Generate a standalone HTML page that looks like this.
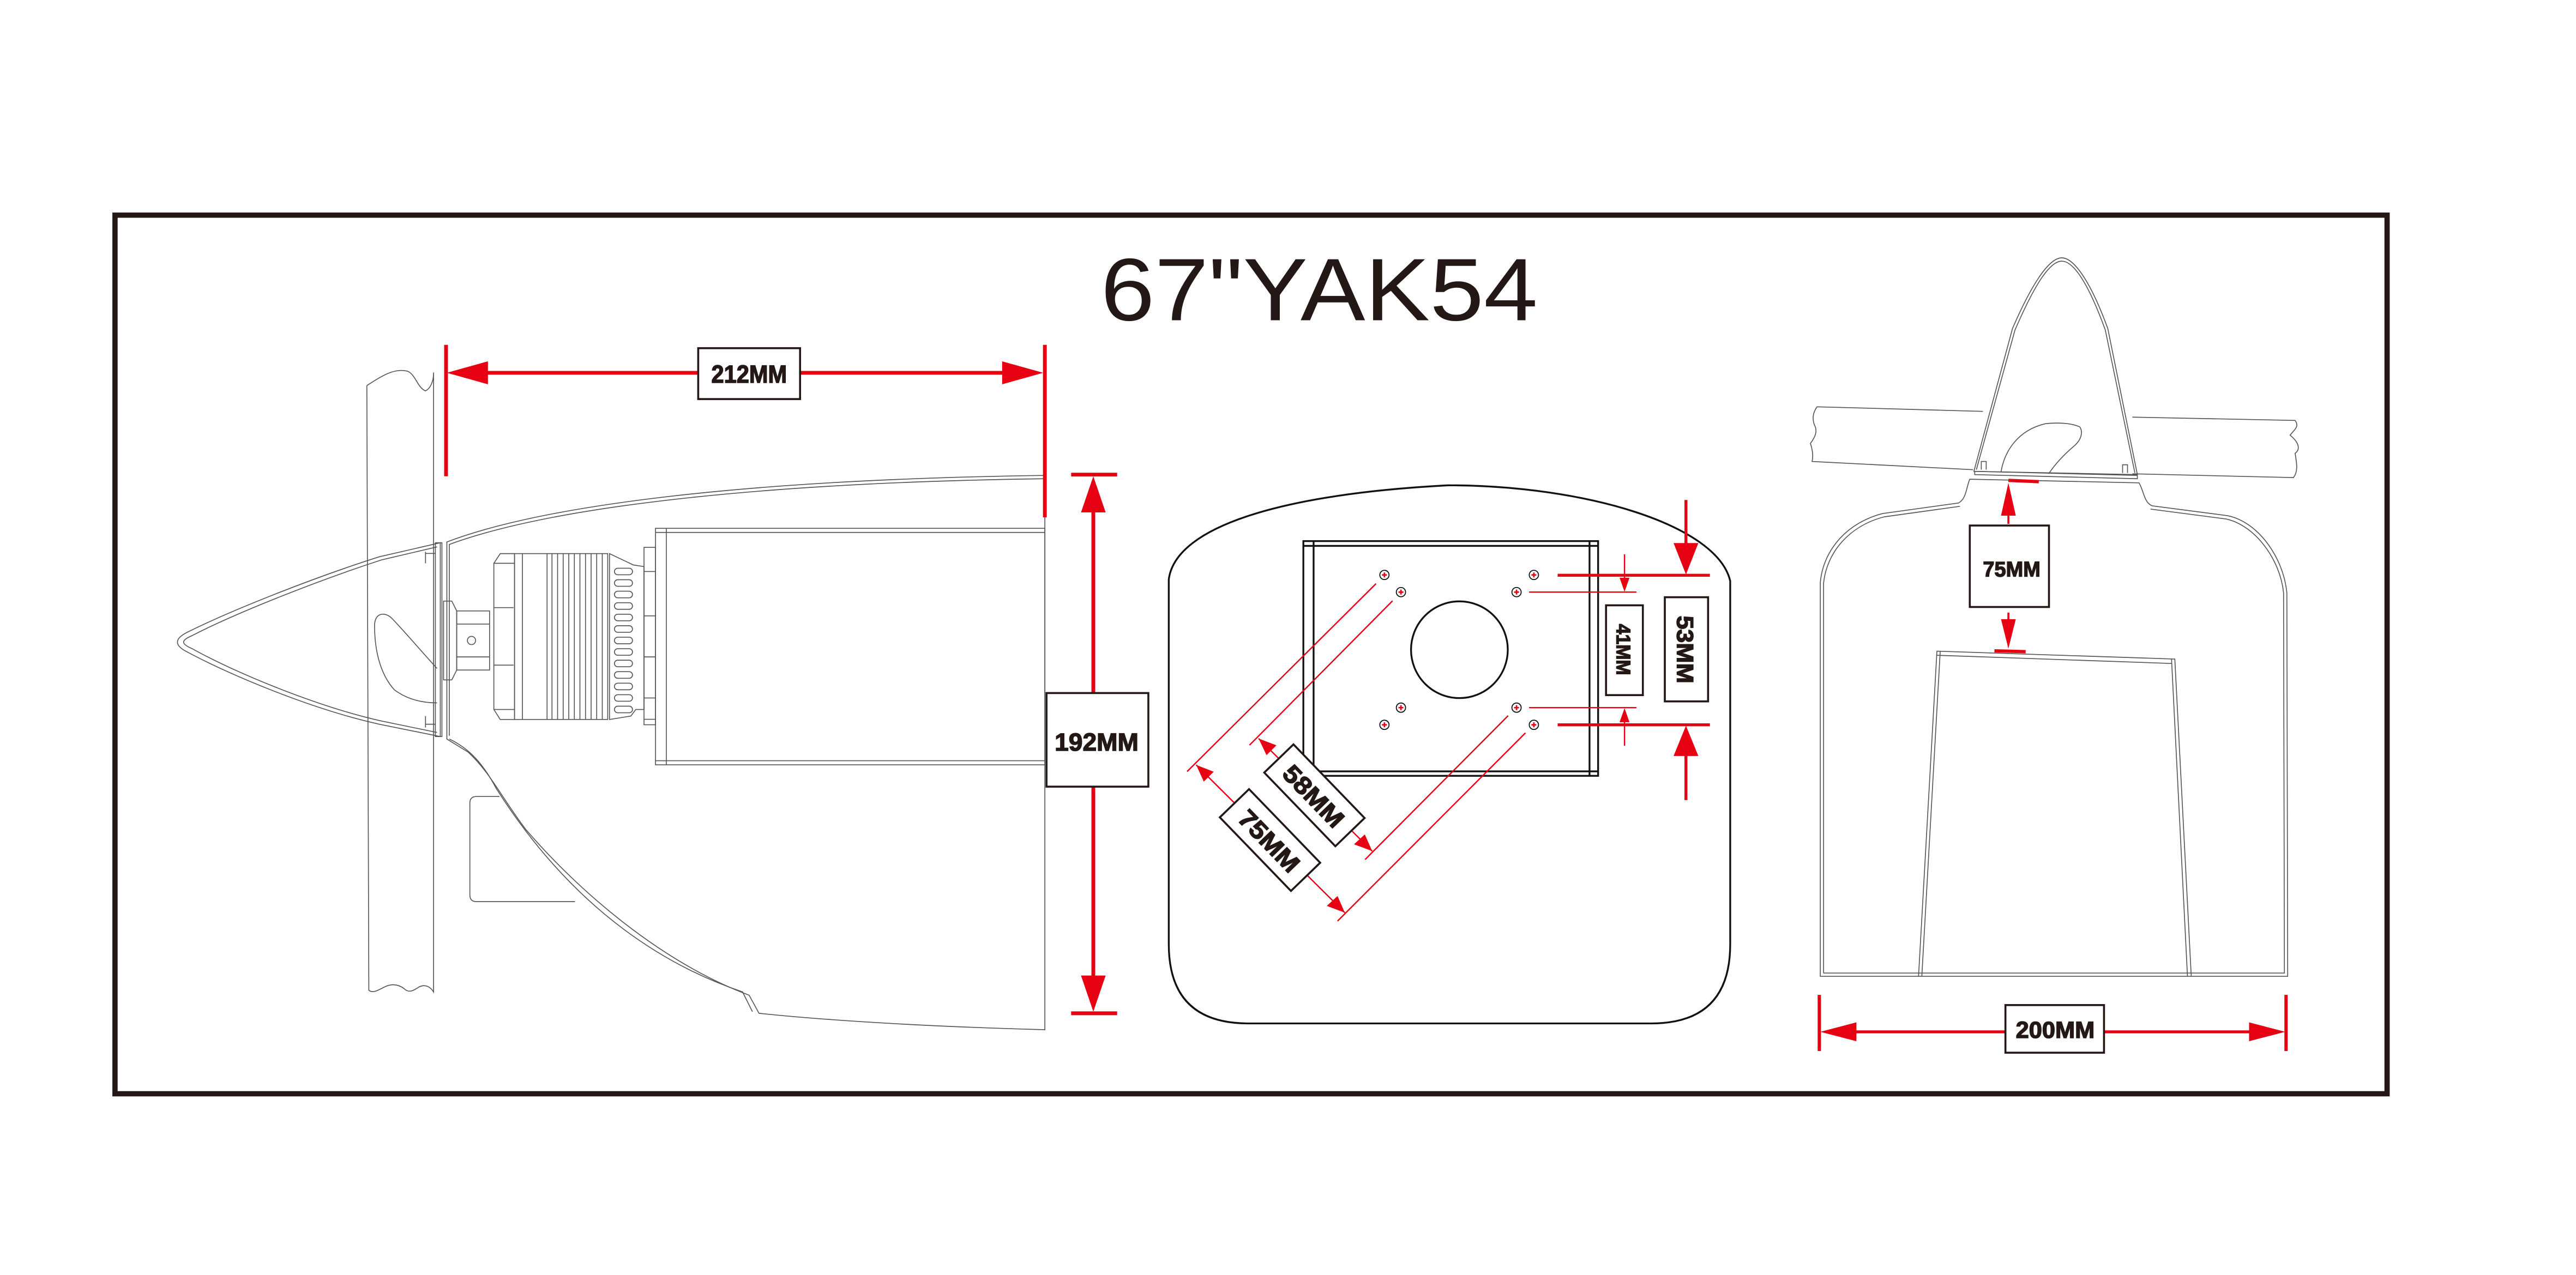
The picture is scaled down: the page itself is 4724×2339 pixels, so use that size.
<!DOCTYPE html>
<html><head><meta charset="utf-8"><style>
html,body{margin:0;padding:0;background:#fff;}
svg{display:block;}
.l{fill:none;stroke:#555;stroke-width:0.55;}
.k{fill:none;stroke:#111;stroke-width:1.1;}
.r{stroke:#e60012;fill:none;}
.rf{fill:#e60012;stroke:none;}
.bx{fill:#fff;stroke:#231815;stroke-width:1.2;}
.t{font-family:"Liberation Sans",Arial,sans-serif;font-weight:bold;fill:#231815;stroke:#231815;stroke-width:0.5;}
</style></head><body>
<svg width="4724" height="2339" viewBox="0 0 1560 772.4" xmlns="http://www.w3.org/2000/svg">
<rect x="0" y="0" width="1560" height="772.4" fill="#fff"/>
<g transform="scale(0.9949)">
<!-- frame -->
<rect x="70" y="131" width="1383" height="535" fill="none" stroke="#231815" stroke-width="3.2"/>
<text x="670" y="195" font-family="Liberation Sans, Arial, sans-serif" font-size="54" fill="#231815" textLength="266" lengthAdjust="spacingAndGlyphs">67"YAK54</text>

<!-- ============ LEFT VIEW ============ -->
<path class="l" d="M223.3,234.8 C232,229 240,224 248,226 C253,228 254,236 259,238 C263,236 264,230 263.9,226.8 L263.9,604 C262,601 259,599 255,601 C252,603 249,605 246,602 C242,599 238,599 234,601 C230,603 227,605 224.5,603 L223.3,234.8"/>
<path class="l" d="M268,330.5 L231,339 C190,352 140,372 114,385 C106,389 106,393 114,397 C140,411 190,432 231,441 L268,448.5 Z"/>
<path class="l" d="M266,333 L232,341 C192,354 142,374 117,387 C110,390 110,392 117,395 C142,409 192,430 232,439 L266,446"/>
<rect class="l" x="265" y="330.5" width="4" height="118"/>
<path class="l" d="M259,337 h6 M259,441 h6 M259,336 v7 M259,436 v7"/>
<path class="l" d="M266,407 C255,395 245,383 238,376 C233,372 228,374 228,381 C228,395 231,410 240,420 C248,426 257,428 266,428"/>
<path class="l" d="M270,366 L275,366 L278,372 L278,408 L275,414 L270,414 Z"/>
<rect class="l" x="278" y="372" width="20" height="36"/>
<line class="l" x1="278" y1="380" x2="298" y2="380"/><line class="l" x1="278" y1="400" x2="298" y2="400"/>
<circle class="l" cx="287" cy="390" r="2.5"/>
<path class="l" d="M272,450 L272,330 C330,308 450,292 636,289.5 L636,627 C560,625 500,621 462,617 L456,606 C400,585 350,540 320,505 C305,485 298,470 285,458 Z"/>
<path class="l" d="M273.5,448 L273.5,331.5 C332,310 452,294 636,291.5 M273.5,450 C286,456 294,465 302,480 C340,540 390,583 452,604 L458,616"/>
<path class="l" d="M304,485 L290,485 Q286,485 286,489 L286,545 Q286,549 290,549 L350,549"/>
<rect class="l" x="399" y="321.7" width="237" height="144"/>
<line class="l" x1="399" y1="324.2" x2="636" y2="324.2"/>
<line class="l" x1="399" y1="463.2" x2="636" y2="463.2"/>
<line class="l" x1="405.6" y1="321.7" x2="405.6" y2="465.7"/>
<rect class="l" x="392" y="333.3" width="7" height="108"/>
<path class="l" d="M392,348 h7 M392,375 h7 M392,400 h7 M392,425 h7 M392,438 h7"/>
<path class="l" d="M304.5,337.1 L313.2,337.1 L313.2,438.1 L304.5,438.1 L300.6,432 L300.6,343 Z"/>
<rect class="l" x="313.2" y="337.1" width="56.7" height="101"/>
<line class="l" x1="318" y1="337.1" x2="318" y2="438.1"/>
<line class="l" x1="333" y1="337.1" x2="333" y2="438.1"/>
<g class="l">
<line x1="336" y1="337" x2="336" y2="438"/><line x1="339.4" y1="337" x2="339.4" y2="438"/>
<line x1="342.8" y1="337" x2="342.8" y2="438"/><line x1="346.2" y1="337" x2="346.2" y2="438"/>
<line x1="349.6" y1="337" x2="349.6" y2="438"/><line x1="353" y1="337" x2="353" y2="438"/>
<line x1="356.4" y1="337" x2="356.4" y2="438"/><line x1="359.8" y1="337" x2="359.8" y2="438"/>
<line x1="363.2" y1="337" x2="363.2" y2="438"/><line x1="366.6" y1="337" x2="366.6" y2="438"/>
</g>
<path class="l" d="M300.6,343 L313,343 M300.6,432 L313,432 M300.6,370 h12 M300.6,405 h12"/>
<path class="l" d="M371,337.1 L385.5,344 L392,345 L392,432 L387,432 L384,436 L371,438.1 Z"/>
<g class="l">
<rect x="374" y="346" width="11" height="4" rx="2"/><rect x="374" y="353" width="11" height="4" rx="2"/>
<rect x="374" y="360" width="11" height="4" rx="2"/><rect x="374" y="367" width="11" height="4" rx="2"/>
<rect x="374" y="374" width="11" height="4" rx="2"/><rect x="374" y="381" width="11" height="4" rx="2"/>
<rect x="374" y="388" width="11" height="4" rx="2"/><rect x="374" y="395" width="11" height="4" rx="2"/>
<rect x="374" y="402" width="11" height="4" rx="2"/><rect x="374" y="409" width="11" height="4" rx="2"/>
<rect x="374" y="416" width="11" height="4" rx="2"/><rect x="374" y="423" width="11" height="4" rx="2"/>
<rect x="374" y="430" width="11" height="4" rx="2"/>
</g>
<!-- 212MM -->
<line class="r" x1="271.5" y1="210" x2="271.5" y2="290" stroke-width="2.3"/>
<line class="r" x1="636" y1="210" x2="636" y2="315" stroke-width="2.3"/>
<line class="r" x1="290" y1="227" x2="620" y2="227" stroke-width="2.3"/>
<polygon class="rf" points="272,227 297,220 297,234"/>
<polygon class="rf" points="635,227 610,220 610,234"/>
<rect class="bx" x="425" y="212" width="62" height="31"/>
<text class="t" x="433" y="233" font-size="15" textLength="46" lengthAdjust="spacingAndGlyphs">212MM</text>
<!-- 192MM -->
<line class="r" x1="652" y1="289" x2="680" y2="289" stroke-width="2.3"/>
<line class="r" x1="652" y1="617" x2="680" y2="617" stroke-width="2.3"/>
<line class="r" x1="665.5" y1="300" x2="665.5" y2="606" stroke-width="2.3"/>
<polygon class="rf" points="665.5,290 658,312 673,312"/>
<polygon class="rf" points="665.5,616 658,594 673,594"/>
<rect class="bx" x="637" y="422" width="62" height="57"/>
<text class="t" x="642" y="457" font-size="15" textLength="51" lengthAdjust="spacingAndGlyphs">192MM</text>

<!-- ============ RIGHT VIEW ============ -->
<path class="l" d="M1106,247.7 L1207,250.5 M1298,254 L1397,256 C1400,260 1396,262 1394,265 C1400,270 1400,274 1397,276 C1398,282 1399,287 1396,290.8 L1298,288.5 M1201,286 L1103,281 C1104,277 1103,273 1102,270 C1105,266 1106,263 1105,260 C1103,256 1103,252 1106,247.7"/>
<path class="l" d="M1201.5,287 L1225,200 C1238,170 1248,157 1255,157 C1262,157 1272,170 1283,200 L1301,289 Z"/>
<path class="l" d="M1203,286 L1226.5,201 C1239,172 1248,159 1255,159 C1262,159 1271,172 1281.5,201 L1299.5,288"/>
<path class="l" d="M1202,287 L1301,289.5 L1301,291.5 L1202,289 Z"/>
<path class="l" d="M1218,287.5 C1220,275 1228,262 1245,258 C1255,257 1262,258 1266,260 C1268,263 1267,268 1262,272 C1255,278 1250,284 1247,288.5"/>
<path class="l" d="M1206,286 v-5 h3 v5 M1292,288 v-5 h3 v5"/>
<path class="l" d="M1108,594.5 L1108,354.6 C1110,334 1125,318 1146,312.7 L1192,306.3 C1197,304 1197,296 1199,291.8 L1302,294 C1305,299 1305,306 1310,308 L1356,314 C1375,318 1390,340 1392,361 L1392.5,594.5 Z"/>
<path class="l" d="M1110,592.5 L1110,355 C1112,336 1126,320 1147,314.7 L1193,308.3 M1309,310 L1355,316 C1373,320 1388,341 1390,361 L1390.5,592.5 L1110,592.5"/>
<path class="l" d="M1167.8,594.5 L1179,396.5 L1323.8,401.3 L1333.8,594.5"/>
<path class="l" d="M1169.8,594.5 L1181,396.5 M1179,399 L1322,404 M1321.8,401.3 L1331.5,594.5"/>
<line class="r" x1="1222.5" y1="292.5" x2="1241" y2="293.3" stroke-width="2"/>
<line class="r" x1="1222.5" y1="314" x2="1222.5" y2="319" stroke-width="1.2"/>
<polygon class="rf" points="1222.5,294 1218,314 1227,314"/>
<line class="r" x1="1214" y1="396.3" x2="1233" y2="396.8" stroke-width="2"/>
<line class="r" x1="1222.5" y1="373" x2="1222.5" y2="378" stroke-width="1.2"/>
<polygon class="rf" points="1222.5,395 1218,377 1227,377"/>
<rect class="bx" x="1199" y="320" width="48.2" height="49.6"/>
<text class="t" x="1207" y="351" font-size="13" textLength="35" lengthAdjust="spacingAndGlyphs">75MM</text>
<line class="r" x1="1107.4" y1="605.8" x2="1107.4" y2="640" stroke-width="2"/>
<line class="r" x1="1391.5" y1="605.8" x2="1391.5" y2="640" stroke-width="2"/>
<line class="r" x1="1125" y1="628.3" x2="1374" y2="628.3" stroke-width="1.8"/>
<polygon class="rf" points="1108,628.3 1130,622.5 1130,634"/>
<polygon class="rf" points="1391,628.3 1369,622.5 1369,634"/>
<rect class="bx" x="1220.7" y="612" width="60" height="29"/>
<text class="t" x="1227" y="632" font-size="14" textLength="48" lengthAdjust="spacingAndGlyphs">200MM</text>
</g>

<!-- ============ MIDDLE VIEW ============ -->
<path class="k" d="M707.8,351 C712,318 780,299 877,294 C960,294 1040,318 1047.8,352 L1047.8,572 Q1047.8,620 1000,620 L756,620 Q707.8,620 707.8,572 Z"/>
<rect class="k" x="789.3" y="327.8" width="178.5" height="142.2" stroke-width="0.9"/>
<line class="k" x1="795.5" y1="327.8" x2="795.5" y2="470" stroke-width="0.9"/>
<line class="k" x1="962.6" y1="327.8" x2="962.6" y2="470" stroke-width="0.9"/>
<line class="k" x1="789.3" y1="330.7" x2="967.8" y2="330.7" stroke-width="0.9"/>
<line class="k" x1="789.3" y1="467.3" x2="967.8" y2="467.3" stroke-width="0.9"/>
<circle class="k" cx="883.8" cy="393.6" r="29.3" stroke-width="0.9"/>
<g>
<g transform="translate(838.4,348.3)"><circle r="2.8" fill="#fff" stroke="#111" stroke-width="0.6"/><path d="M-1.5,0h3M0,-1.5v3" stroke="#e60012" stroke-width="0.9"/></g>
<g transform="translate(848.4,358.7)"><circle r="2.8" fill="#fff" stroke="#111" stroke-width="0.6"/><path d="M-1.5,0h3M0,-1.5v3" stroke="#e60012" stroke-width="0.9"/></g>
<g transform="translate(928.9,348.3)"><circle r="2.8" fill="#fff" stroke="#111" stroke-width="0.6"/><path d="M-1.5,0h3M0,-1.5v3" stroke="#e60012" stroke-width="0.9"/></g>
<g transform="translate(918.4,358.7)"><circle r="2.8" fill="#fff" stroke="#111" stroke-width="0.6"/><path d="M-1.5,0h3M0,-1.5v3" stroke="#e60012" stroke-width="0.9"/></g>
<g transform="translate(848.4,428.7)"><circle r="2.8" fill="#fff" stroke="#111" stroke-width="0.6"/><path d="M-1.5,0h3M0,-1.5v3" stroke="#e60012" stroke-width="0.9"/></g>
<g transform="translate(838.4,439.1)"><circle r="2.8" fill="#fff" stroke="#111" stroke-width="0.6"/><path d="M-1.5,0h3M0,-1.5v3" stroke="#e60012" stroke-width="0.9"/></g>
<g transform="translate(918.4,428.7)"><circle r="2.8" fill="#fff" stroke="#111" stroke-width="0.6"/><path d="M-1.5,0h3M0,-1.5v3" stroke="#e60012" stroke-width="0.9"/></g>
<g transform="translate(928.9,439.1)"><circle r="2.8" fill="#fff" stroke="#111" stroke-width="0.6"/><path d="M-1.5,0h3M0,-1.5v3" stroke="#e60012" stroke-width="0.9"/></g>
</g>
<line class="r" x1="943.3" y1="348.5" x2="1035.5" y2="348.5" stroke-width="1.8"/>
<line class="r" x1="943.3" y1="439.1" x2="1035.5" y2="439.1" stroke-width="1.8"/>
<line class="r" x1="1021" y1="302.9" x2="1021" y2="335" stroke-width="1.8"/>
<polygon class="rf" points="1021,348 1013.5,329 1028.5,329"/>
<line class="r" x1="1021" y1="484.7" x2="1021" y2="452" stroke-width="1.8"/>
<polygon class="rf" points="1021,439.6 1013.5,458 1028.5,458"/>
<rect class="bx" x="1008.2" y="361.8" width="26.2" height="63.1"/>
<text class="t" transform="translate(1015.6,373) rotate(90)" font-size="14" textLength="41" lengthAdjust="spacingAndGlyphs">53MM</text>
<line class="r" x1="926" y1="358.7" x2="991" y2="358.7" stroke-width="0.8"/>
<line class="r" x1="926" y1="428.7" x2="991" y2="428.7" stroke-width="0.8"/>
<line class="r" x1="983.8" y1="335.8" x2="983.8" y2="352" stroke-width="0.8"/>
<polygon class="rf" points="983.8,358.5 980.8,350 986.8,350"/>
<line class="r" x1="983.8" y1="451.8" x2="983.8" y2="436" stroke-width="0.8"/>
<polygon class="rf" points="983.8,429 980.8,437.5 986.8,437.5"/>
<rect class="bx" x="972.6" y="366.7" width="22.3" height="54.4"/>
<text class="t" transform="translate(979,378) rotate(90)" font-size="12" textLength="31" lengthAdjust="spacingAndGlyphs">41MM</text>
<line class="r" x1="843.3" y1="364" x2="756.7" y2="451.4" stroke-width="0.8"/>
<line class="r" x1="913.3" y1="433.6" x2="826.7" y2="520.7" stroke-width="0.8"/>
<line class="r" x1="762.2" y1="447.4" x2="831" y2="515.6" stroke-width="0.8"/>
<polygon class="rf" points="762.2,447.4 773,451.5 767,457.5"/>
<polygon class="rf" points="831,515.6 820,511.5 826.5,505.5"/>
<g transform="translate(796,481.8) rotate(46)">
<rect class="bx" x="-31" y="-12.3" width="62" height="24.6"/>
<text class="t" x="-23" y="6" font-size="15" textLength="46" lengthAdjust="spacingAndGlyphs">58MM</text>
</g>
<line class="r" x1="833.3" y1="353.6" x2="718.9" y2="467.4" stroke-width="0.8"/>
<line class="r" x1="923.8" y1="444" x2="810" y2="558" stroke-width="0.8"/>
<line class="r" x1="724.4" y1="463.4" x2="814.4" y2="552.9" stroke-width="0.8"/>
<polygon class="rf" points="724.4,463.4 735,467.5 729,473.5"/>
<polygon class="rf" points="814.4,552.9 803.5,548.8 810,542.8"/>
<g transform="translate(769.1,508.9) rotate(46)">
<rect class="bx" x="-31" y="-12.3" width="62" height="24.6"/>
<text class="t" x="-23" y="6" font-size="15" textLength="46" lengthAdjust="spacingAndGlyphs">75MM</text>
</g>
</svg>
</body></html>
